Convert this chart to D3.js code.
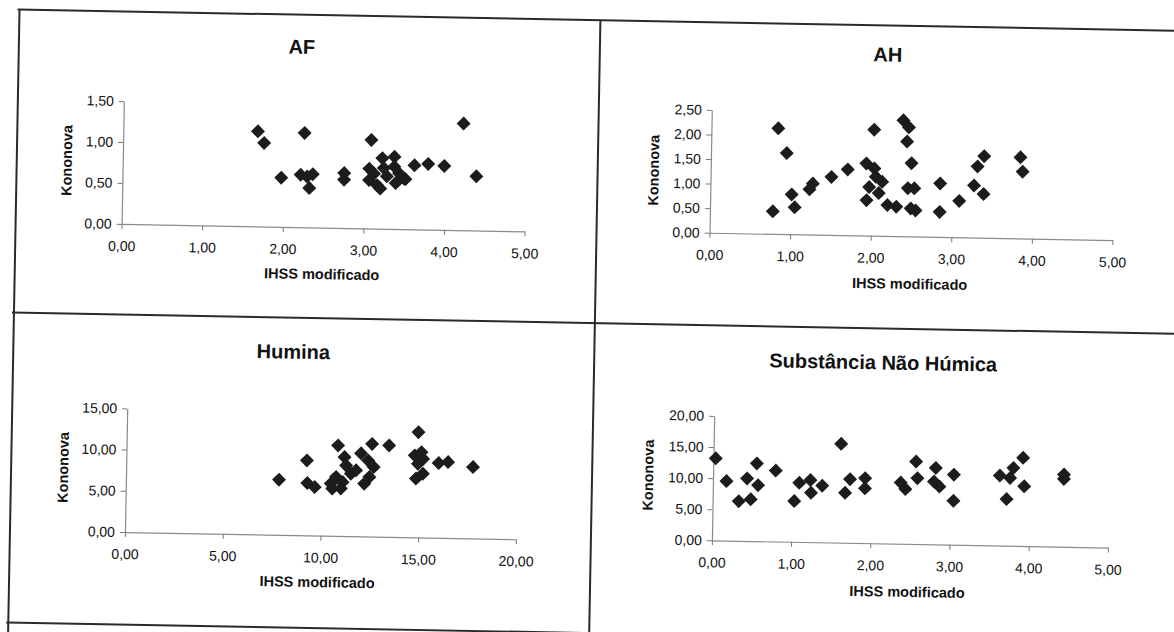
<!DOCTYPE html>
<html>
<head>
<meta charset="utf-8">
<script src="https://cdn.jsdelivr.net/npm/d3@7/dist/d3.min.js"></script>
<style>
body { margin: 0; background: #fff; }
text { font-family: Arial, "Liberation Sans", sans-serif; }
</style>
</head>
<body>
<div id="chart"></div>
<script>
const width = 1174
const height = 632

// AF
const afIhss = [1.67, 1.75, 1.97, 2.25, 2.21, 2.29, 2.36, 2.32, 2.75, 2.75, 3.08, 3.06, 3.06, 3.12, 3.16, 3.20, 3.22, 3.24, 3.28, 3.37, 3.37, 3.39, 3.43, 3.49, 3.51, 3.62, 3.79, 3.99, 4.22, 4.39]
const afKon  = [1.16, 1.02, 0.60, 1.15, 0.64, 0.62, 0.65, 0.48, 0.67, 0.59, 1.08, 0.73, 0.59, 0.67, 0.53, 0.49, 0.86, 0.74, 0.64, 0.88, 0.76, 0.56, 0.68, 0.62, 0.61, 0.78, 0.80, 0.78, 1.30, 0.66]
// AH
const ahIhss = [0.78, 0.83, 0.94, 1.01, 1.05, 1.23, 1.27, 1.50, 1.70, 1.93, 1.94, 1.97, 2.02, 2.03, 2.05, 2.09, 2.13, 2.20, 2.31, 2.38, 2.43, 2.45, 2.49, 2.45, 2.53, 2.49, 2.55, 2.85, 2.85, 3.09, 3.27, 3.31, 3.39, 3.39, 3.84, 3.87]
const ahKon  = [0.46, 2.15, 1.65, 0.81, 0.55, 0.92, 1.04, 1.18, 1.34, 1.47, 0.72, 0.99, 2.16, 1.37, 1.20, 0.87, 1.10, 0.63, 0.60, 2.36, 1.93, 2.22, 1.49, 0.98, 0.98, 0.57, 0.53, 1.09, 0.51, 0.74, 1.06, 1.45, 1.66, 0.89, 1.65, 1.36]
// Humina
const huIhss = [7.83, 9.24, 9.28, 9.66, 10.48, 10.56, 10.82, 10.74, 11.00, 11.16, 11.25, 11.08, 11.50, 11.76, 12.00, 12.19, 12.37, 12.56, 12.66, 12.45, 13.43, 14.92, 14.75, 15.09, 14.92, 15.18, 14.83, 15.18, 15.98, 16.46, 17.74]
const huKon  = [6.70, 9.09, 6.35, 5.88, 6.34, 5.73, 10.98, 7.15, 5.77, 9.58, 8.57, 6.55, 7.58, 8.00, 10.08, 6.40, 9.23, 11.23, 8.43, 7.22, 11.09, 12.76, 9.94, 10.34, 8.93, 9.53, 7.13, 7.74, 9.06, 9.20, 8.65]
// Substância Não Húmica
const snIhss = [0.03, 0.17, 0.33, 0.43, 0.48, 0.55, 0.57, 0.79, 1.03, 1.09, 1.23, 1.24, 1.38, 1.61, 1.67, 1.73, 1.92, 1.92, 2.37, 2.43, 2.56, 2.58, 2.79, 2.81, 2.86, 3.04, 3.04, 3.62, 3.71, 3.75, 3.79, 3.91, 3.93, 4.43, 4.43]
const snKon  = [13.2, 9.56, 6.37, 10.06, 6.70, 12.5, 9.00, 11.4, 6.55, 9.50, 9.98, 7.94, 9.10, 15.9, 8.03, 10.23, 10.44, 8.82, 9.84, 8.82, 13.27, 10.6, 10.1, 12.3, 9.32, 11.26, 7.06, 11.25, 7.50, 10.9, 12.53, 14.18, 9.60, 11.6, 10.9]

const titles = ["AF", "AH", "Humina", "Substância Não Húmica"]
const xLabel = "IHSS modificado"
const yLabel = "Kononova"

const panels = [
    {title: titles[0], xs: afIhss, ys: afKon, xMax: 5, xStep: 1, yMax: 1.5, yStep: 0.5,
     xr: [120, 523], yr: [232.5, 109.5], tPos: [297, 52], kPos: [64, 170], iPos: [321, 279]},
    {title: titles[1], xs: ahIhss, ys: ahKon, xMax: 5, xStep: 1, yMax: 2.5, yStep: 0.5,
     xr: [708, 1111], yr: [230.5, 107.7], tPos: [883, 49], kPos: [651, 169], iPos: [909, 278]},
    {title: titles[2], xs: huIhss, ys: huKon, xMax: 20, xStep: 5, yMax: 15, yStep: 5,
     xr: [129, 520], yr: [540.5, 416.8], tPos: [294, 357], kPos: [66, 477], iPos: [322, 587]},
    {title: titles[3], xs: snIhss, ys: snKon, xMax: 5, xStep: 1, yMax: 20, yStep: 5,
     xr: [716, 1112], yr: [538, 413.6], tPos: [884, 357], kPos: [651, 474], iPos: [912, 586]}
]

const fmt = v => d3.format(".2f")(v).replace(".", ",")

const svg = d3.select("div#chart").append("svg").attr("width", width).attr("height", height)
svg.append("rect").attr("width", width).attr("height", height).attr("fill", "#fff")

// the scanned page is tilted about one degree
const page = svg.append("g").attr("transform", "rotate(1.05, 587, 316)")

// frame of the four panels
const frame = page.append("g").attr("stroke", "#2a2a2a").attr("stroke-width", 2)
frame.append("line").attr("x1", 12).attr("x2", 1200).attr("y1", 20).attr("y2", 20)
frame.append("line").attr("x1", 14).attr("x2", 14).attr("y1", 20).attr("y2", 660)
frame.append("line").attr("x1", 595).attr("x2", 595).attr("y1", 20).attr("y2", 660)
frame.append("line").attr("x1", 12).attr("x2", 1200).attr("y1", 323).attr("y2", 323)
frame.append("line").attr("x1", 12).attr("x2", 1200).attr("y1", 633).attr("y2", 633)

const diamond = "M0,-7L7,0L0,7L-7,0Z"

panels.forEach(p => {
    const g = page.append("g")
    const x = d3.scaleLinear().domain([0, p.xMax]).range(p.xr)
    const y = d3.scaleLinear().domain([0, p.yMax]).range(p.yr)

    const xAxis = d3.axisBottom(x).tickValues(d3.range(0, p.xMax + p.xStep / 2, p.xStep))
        .tickFormat(fmt).tickSize(5).tickSizeOuter(0).tickPadding(12)
    const yAxis = d3.axisLeft(y).tickValues(d3.range(0, p.yMax + p.yStep / 2, p.yStep))
        .tickFormat(fmt).tickSize(5).tickSizeOuter(0).tickPadding(5)

    const xg = g.append("g").attr("transform", `translate(0, ${p.yr[0]})`).call(xAxis)
    const yg = g.append("g").attr("transform", `translate(${p.xr[0]}, 0)`).call(yAxis)
    ;[xg, yg].forEach(a => {
        a.select(".domain").attr("stroke", "#8a8a8a").attr("stroke-width", 1.2)
        a.selectAll(".tick line").attr("stroke", "#777")
        a.selectAll(".tick text").attr("font-size", 14).attr("fill", "#111")
            .attr("font-family", "Arial, 'Liberation Sans', sans-serif")
    })

    g.selectAll("path.pt").data(p.xs).enter().append("path")
        .attr("class", "pt")
        .attr("d", diamond)
        .attr("fill", "#1c1c1c")
        .attr("transform", (d, i) => `translate(${x(d)}, ${y(p.ys[i])})`)

    g.append("text").text(p.title)
        .attr("x", p.tPos[0]).attr("y", p.tPos[1]).attr("dy", "0.35em")
        .attr("text-anchor", "middle").attr("font-size", 20).attr("font-weight", "bold").attr("fill", "#111")

    g.append("text").text(yLabel)
        .attr("transform", `translate(${p.kPos[0]}, ${p.kPos[1]}) rotate(-90)`)
        .attr("dy", "0.35em")
        .attr("text-anchor", "middle").attr("font-size", 14.5).attr("font-weight", "bold").attr("fill", "#111")

    g.append("text").text(xLabel)
        .attr("x", p.iPos[0]).attr("y", p.iPos[1]).attr("dy", "0.35em")
        .attr("text-anchor", "middle").attr("font-size", 14.5).attr("font-weight", "bold").attr("fill", "#111")
})
</script>
</body>
</html>
